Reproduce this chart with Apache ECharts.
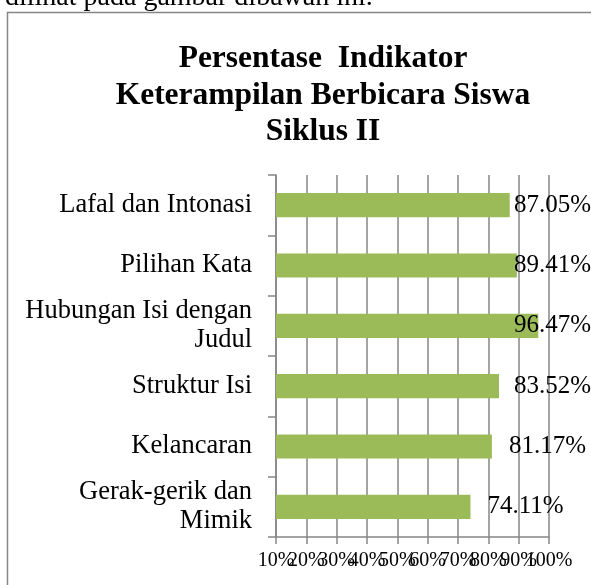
<!DOCTYPE html>
<html>
<head>
<meta charset="utf-8">
<script src="https://cdn.jsdelivr.net/npm/echarts@6/dist/echarts.min.js"></script>
<style>
  html, body { margin: 0; padding: 0; background: #fff; }
  #chart { width: 591px; height: 585px; }
</style>
</head>
<body>
<div id="chart"></div>
<script>
// data
var categories = ['Lafal dan Intonasi', 'Pilihan Kata', 'Hubungan Isi dengan\nJudul', 'Struktur Isi', 'Kelancaran', 'Gerak-gerik dan\nMimik'];
var percentValues = [87.05, 89.41, 96.47, 83.52, 81.17, 74.11];
var xTicks = [10, 20, 30, 40, 50, 60, 70, 80, 90, 100];
var xTickLabels = ['10%', '20%', '30%', '40%', '50%', '60%', '70%', '80%', '90%', '100%'];

var serif = '"Liberation Serif", "Times New Roman", serif';
var gridColor = '#868686';

var chart = echarts.init(document.getElementById('chart'));

var option = {
  animation: false,
  backgroundColor: '#fff',
  title: {
    text: 'Persentase  Indikator\nKeterampilan Berbicara Siswa\nSiklus II',
    left: 318,
    top: 36,
    textAlign: 'center',
    textStyle: {
      fontFamily: serif,
      fontWeight: 'bold',
      fontSize: 31.5,
      lineHeight: 36.5,
      color: '#000'
    }
  },
  graphic: [
    {
      // frame of the chart object
      type: 'rect',
      shape: { x: 7.5, y: 12.5, width: 700, height: 700 },
      style: { fill: 'none', stroke: gridColor, lineWidth: 1.5 },
      silent: true
    },
    {
      // line of document text cut off at the top
      type: 'text',
      left: 5,
      top: -16,
      style: {
        text: 'dilihat pada gambar dibawah ini.',
        fontFamily: serif,
        fontSize: 28,
        fill: '#000'
      },
      silent: true
    }
  ],
  grid: {
    left: 276,
    right: 42,
    top: 175,
    bottom: 48
  },
  xAxis: [
    {
      type: 'value',
      min: xTicks[0],
      max: xTicks[xTicks.length - 1],
      interval: 10,
      axisLine: { show: true, lineStyle: { color: gridColor, width: 1.5 } },
      axisTick: { show: true, length: 7, lineStyle: { color: gridColor, width: 1.5 } },
      splitLine: { show: true, lineStyle: { color: gridColor, width: 1.5 } },
      axisLabel: { show: false }
    },
    {
      // tick labels, all shown even though they overlap (as in the original)
      type: 'category',
      position: 'bottom',
      offset: 0,
      boundaryGap: false,
      data: xTickLabels,
      axisLine: { show: false },
      axisTick: { show: false },
      splitLine: { show: false },
      axisLabel: {
        interval: 0,
        fontFamily: serif,
        fontSize: 20,
        color: '#000',
        margin: 14
      }
    }
  ],
  yAxis: {
    type: 'category',
    inverse: true,
    data: categories,
    axisLine: { show: true, lineStyle: { color: gridColor, width: 1.5 } },
    axisTick: { show: true, length: 8, lineStyle: { color: gridColor, width: 1.5 } },
    axisLabel: {
      fontFamily: serif,
      fontSize: 26.5,
      lineHeight: 29,
      color: '#000',
      margin: 24,
      align: 'right'
    }
  },
  series: [
    {
      type: 'bar',
      xAxisIndex: 0,
      data: percentValues,
      barWidth: '40%',
      itemStyle: { color: '#9BBB59' },
      label: {
        show: true,
        position: 'right',
        distance: 17,
        formatter: function (p) { return p.value.toFixed(2) + '%'; },
        fontFamily: serif,
        fontSize: 25,
        color: '#000'
      },
      // like the original, keep the value labels inside the chart area
      labelLayout: function (params) {
        var r = params.labelRect;
        var over = r.x + r.width - 591;
        if (over > 0) {
          return { dx: -over };
        }
        return {};
      }
    }
  ]
};

chart.setOption(option);
</script>
</body>
</html>
